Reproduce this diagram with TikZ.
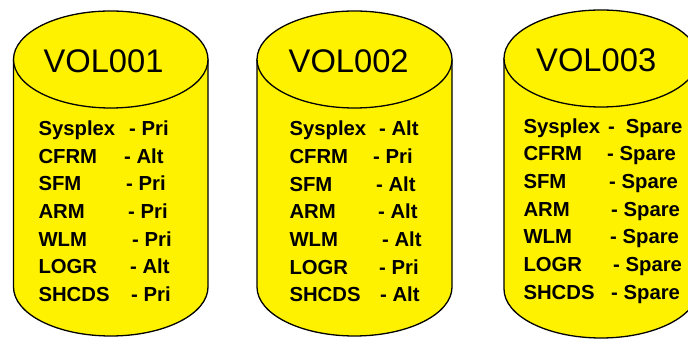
\documentclass[tikz,border=0pt]{standalone}
\usepackage{fontspec}
\setmainfont{Liberation Sans}
\begin{document}
\begin{tikzpicture}[x=1pt,y=1pt,
  cylline/.style={line width=1.3pt, draw=black},
  title/.style={anchor=base west, inner sep=0pt, font=\fontsize{32.7}{36}\selectfont},
  item/.style={anchor=base west, inner sep=0pt, font=\fontsize{20.3}{24}\selectfont\bfseries}]
\useasboundingbox (0,0) rectangle (688,339);
\fill[white] (0,0) rectangle (688,339);
\begin{scope}
\clip (0,0) rectangle (688,339);
\foreach \cx/\rx/\tc/\bc in {110.75/97.25/279.5/52, 354.5/97.5/279.5/52, 601/97/280.5/50}{
  \pgfmathsetmacro{\L}{\cx-\rx}
  \pgfmathsetmacro{\R}{\cx+\rx}
  \fill[yellow] (\L,\tc) -- (\L,\bc) arc[start angle=180,end angle=360,x radius=\rx,y radius=49] -- (\R,\tc) -- cycle;
  \draw[cylline] (\L,\tc) -- (\L,\bc) arc[start angle=180,end angle=360,x radius=\rx,y radius=49] -- (\R,\tc);
  \filldraw[cylline, fill=yellow] (\cx,\tc) ellipse[x radius=\rx, y radius=48.5];
}
\end{scope}
% titles
\node[title] (t1) at (43.3,266.3) {VOL001};
\node[title] (t2) at (288.5,266.3) {VOL002};
\node[title] (t3) at (536,267.3) {VOL003};
% cylinder 1
\node[item] (a1) at (38.3,203.3) {Sysplex};  \node[item] (b1) at (129,203.3) {- Pri};
\node[item] (a2) at (38.3,175.7) {CFRM};     \node[item] (b2) at (124,175.7) {- Alt};
\node[item] (a3) at (38.3,148.0) {SFM};      \node[item] (b3) at (126,148.0) {- Pri};
\node[item] (a4) at (38.3,120.4) {ARM};      \node[item] (b4) at (128,120.4) {- Pri};
\node[item] (a5) at (38.3,92.7)  {WLM};      \node[item] (b5) at (132,92.7)  {- Pri};
\node[item] (a6) at (38.3,65.0)  {LOGR};     \node[item] (b6) at (130,65.0)  {- Alt};
\node[item] (a7) at (38.3,37.4)  {SHCDS};    \node[item] (b7) at (131,37.4)  {- Pri};
% cylinder 2
\node[item] (c1) at (289.3,203.0) {Sysplex}; \node[item] (d1) at (379,203.0) {- Alt};
\node[item] (c2) at (289.3,175.4) {CFRM};    \node[item] (d2) at (373,175.4) {- Pri};
\node[item] (c3) at (289.3,147.7) {SFM};     \node[item] (d3) at (376,147.7) {- Alt};
\node[item] (c4) at (289.3,120.1) {ARM};     \node[item] (d4) at (378,120.1) {- Alt};
\node[item] (c5) at (289.3,92.4)  {WLM};     \node[item] (d5) at (382,92.4)  {- Alt};
\node[item] (c6) at (289.3,64.7)  {LOGR};    \node[item] (d6) at (379,64.7)  {- Pri};
\node[item] (c7) at (289.3,37.1)  {SHCDS};   \node[item] (d7) at (380,37.1)  {- Alt};
% cylinder 3
\node[item] (e1) at (523.3,205.8) {Sysplex}; \node[item] (f1) at (608,205.8) {-\hspace{11pt}Spare};
\node[item] (e2) at (523.3,178.2) {CFRM};    \node[item] (f2) at (607,178.2) {- Spare};
\node[item] (e3) at (523.3,150.5) {SFM};     \node[item] (f3) at (609,150.5) {- Spare};
\node[item] (e4) at (523.3,122.9) {ARM};     \node[item] (f4) at (611,122.9) {- Spare};
\node[item] (e5) at (523.3,95.2)  {WLM};     \node[item] (f5) at (610,95.2)  {- Spare};
\node[item] (e6) at (523.3,67.5)  {LOGR};    \node[item] (f6) at (613,67.5)  {- Spare};
\node[item] (e7) at (523.3,39.9)  {SHCDS};   \node[item] (f7) at (611,39.9)  {- Spare};
\end{tikzpicture}
\end{document}
